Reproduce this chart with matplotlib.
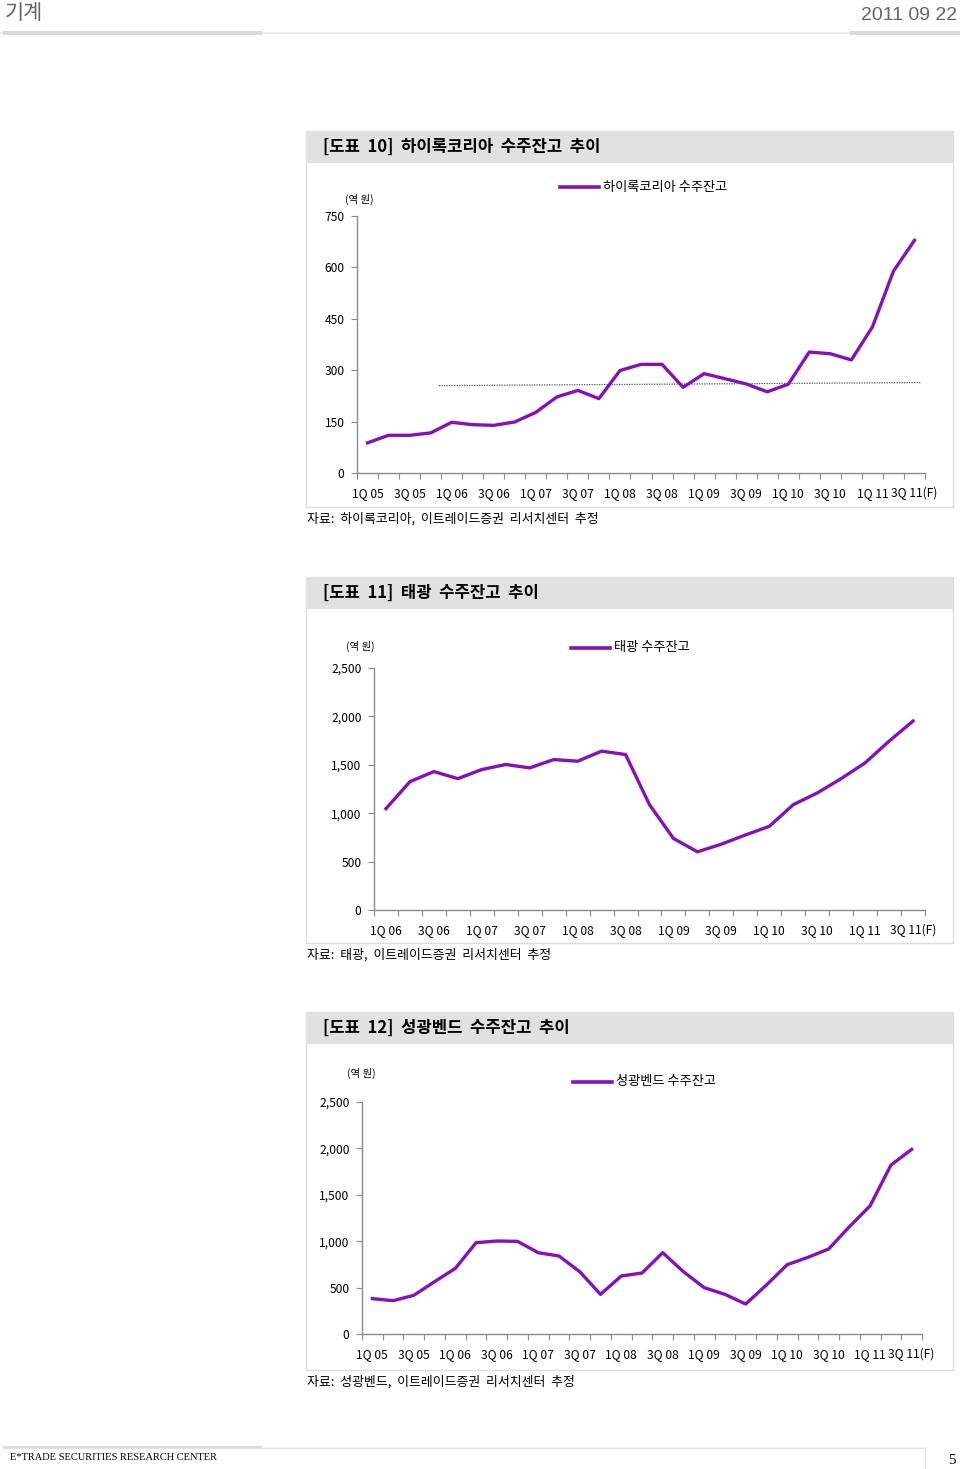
import numpy as np
import matplotlib
matplotlib.use('Agg')
import matplotlib.pyplot as plt
from matplotlib.patches import Rectangle

plt.rcParams['font.family'] = ['Noto Sans CJK KR', 'DejaVu Sans']

# ---- data ----
q_05_11 = ['1Q 05', '2Q 05', '3Q 05', '4Q 05', '1Q 06', '2Q 06', '3Q 06', '4Q 06',
           '1Q 07', '2Q 07', '3Q 07', '4Q 07', '1Q 08', '2Q 08', '3Q 08', '4Q 08',
           '1Q 09', '2Q 09', '3Q 09', '4Q 09', '1Q 10', '2Q 10', '3Q 10', '4Q 10',
           '1Q 11', '2Q 11', '3Q 11(F)']
q_06_11 = q_05_11[4:]

hylok = [88, 110, 110, 117, 148, 141, 139, 149, 177, 222, 241, 217, 299,
         317, 317, 250, 290, 275, 260, 237, 259, 353, 348, 330, 426, 589, 679]
hylok_trend_x = [3.4, 26.3]
hylok_trend_y = [255, 264]

taekwang = [1047, 1326, 1430, 1357, 1451, 1503, 1468, 1554, 1537, 1641, 1606,
            1088, 739, 601, 680, 775, 864, 1088, 1209, 1357, 1520, 1744, 1952]

sungkwang = [381, 359, 417, 564, 707, 984, 1002, 998, 876, 840, 671, 427, 625,
             657, 876, 671, 499, 427, 323, 528, 747, 826, 916, 1156, 1382, 1820, 1989]

W, H = 960, 1469
PURPLE = '#8412B8'
GRAY = '#8c8c8c'


def box(x0, y0, x1, y1):
    return [x0 / W, 1 - y1 / H, (x1 - x0) / W, (y1 - y0) / H]


fig = plt.figure(figsize=(W / 100, H / 100), dpi=100)

# page header / footer
fig.text(5 / W, 1 - 13 / H, '기계', fontsize=15, color='#666666', va='center', ha='left')
fig.text(957 / W, 1 - 16 / H, '2011 09 22', fontsize=14, color='#666666', va='center',
         ha='right', family='Liberation Sans')
fig.add_artist(Rectangle((0, 1 - 34 / H), 1, 2 / H, transform=fig.transFigure,
                         color='#ececec', lw=0))
fig.add_artist(Rectangle((3 / W, 1 - 35 / H), 259 / W, 4 / H, transform=fig.transFigure,
                         color='#d9d9d9', lw=0))
fig.add_artist(Rectangle((850 / W, 1 - 35 / H), 110 / W, 4 / H, transform=fig.transFigure,
                         color='#d9d9d9', lw=0))

fig.add_artist(Rectangle((3 / W, 1 - 1449 / H), 259 / W, 3 / H, transform=fig.transFigure,
                         color='#d9d9d9', lw=0))
fig.add_artist(plt.Line2D([3 / W, 925 / W], [1 - 1448 / H, 1 - 1448 / H],
                          transform=fig.transFigure, color='#e3e3e3', lw=1))
fig.add_artist(plt.Line2D([925 / W, 925 / W], [1 - 1448 / H, 1 - 1469 / H],
                          transform=fig.transFigure, color='#e3e3e3', lw=1))
fig.text(10 / W, 1 - 1457 / H, 'E*TRADE SECURITIES RESEARCH CENTER', fontsize=7.5,
         family='Liberation Serif', va='center', ha='left')
fig.text(952 / W, 1 - 1460 / H, '5', fontsize=11, family='Liberation Serif',
         va='center', ha='center')


def panel(top, bottom, title, source):
    fig.add_artist(Rectangle((306 / W, 1 - bottom / H), 647 / W, (bottom - top) / H,
                             transform=fig.transFigure, facecolor='white',
                             edgecolor='#dddddd', lw=1, zorder=0))
    fig.add_artist(Rectangle((306 / W, 1 - (top + 32) / H), 647 / W, 32 / H,
                             transform=fig.transFigure, facecolor='#e1e1e1',
                             edgecolor='none', zorder=0))
    fig.text(323 / W, 1 - (top + 16) / H, title, fontsize=12, fontweight='bold',
             va='center', ha='left')
    fig.text(307 / W, 1 - (bottom + 12) / H, source, fontsize=9.3, va='center', ha='left')


def chart(rect, labels, values, ymax, ystep, legend, lx, ly, unit_xy, fmt):
    ax = fig.add_axes(box(*rect))
    n = len(labels)
    x = np.arange(n)
    ax.plot(x, values, color=PURPLE, lw=2.4, solid_joinstyle='round')
    ax.set_xlim(-0.5, n - 0.5)
    ax.set_ylim(0, ymax)
    ax.set_yticks(np.arange(0, ymax + 1, ystep))
    ax.set_yticklabels([fmt(v) for v in np.arange(0, ymax + 1, ystep)])
    ax.set_xticks(np.arange(-0.5, n, 1.0))
    ax.set_xticklabels([])
    ax.set_xticks(x[::2], minor=True)
    ax.set_xticklabels(labels[::2], minor=True)
    ax.tick_params(axis='x', which='major', length=4, color=GRAY, direction='out')
    ax.tick_params(axis='x', which='minor', length=0, pad=10, labelsize=8.7)
    ax.tick_params(axis='y', length=4, color=GRAY, labelsize=8.7, pad=5)
    for s in ['top', 'right']:
        ax.spines[s].set_visible(False)
    for s in ['left', 'bottom']:
        ax.spines[s].set_color(GRAY)
        ax.spines[s].set_linewidth(1)
    ax.patch.set_alpha(0)
    # legend
    fig.add_artist(plt.Line2D([lx / W, (lx + 39) / W], [1 - ly / H, 1 - ly / H],
                              transform=fig.transFigure, color=PURPLE, lw=2.6))
    fig.text((lx + 43) / W, 1 - ly / H, legend, fontsize=9.5, va='center', ha='left')
    fig.text(unit_xy[0] / W, 1 - unit_xy[1] / H, '(역 원)', fontsize=7.5, va='center',
             ha='center')
    return ax


fmt_plain = lambda v: '%d' % v
fmt_comma = lambda v: '{:,}'.format(int(v))

# chart 1
panel(131, 507, '[도표  10]  하이록코리아  수주잔고  추이',
      '자료:  하이록코리아,  이트레이드증권  리서치센터  추정')
ax1 = chart((357, 216, 925, 473), q_05_11, hylok, 750, 150, '하이록코리아 수주잔고',
            560, 187, (359, 199), fmt_plain)
ax1.plot(hylok_trend_x, hylok_trend_y, color='#555555', lw=0.9, ls=(0, (1, 1)), zorder=1)

# chart 2
panel(577, 943, '[도표  11]  태광  수주잔고  추이',
      '자료:  태광,  이트레이드증권  리서치센터  추정')
chart((374, 668, 925, 910), q_06_11, taekwang, 2500, 500, '태광 수주잔고',
      571, 648, (360, 646), fmt_comma)

# chart 3
panel(1012, 1370, '[도표  12]  성광벤드  수주잔고  추이',
      '자료:  성광벤드,  이트레이드증권  리서치센터  추정')
chart((362, 1102, 922, 1334), q_05_11, sungkwang, 2500, 500, '성광벤드 수주잔고',
      573, 1082, (361, 1073), fmt_comma)

fig.savefig('out.png', dpi=100)
